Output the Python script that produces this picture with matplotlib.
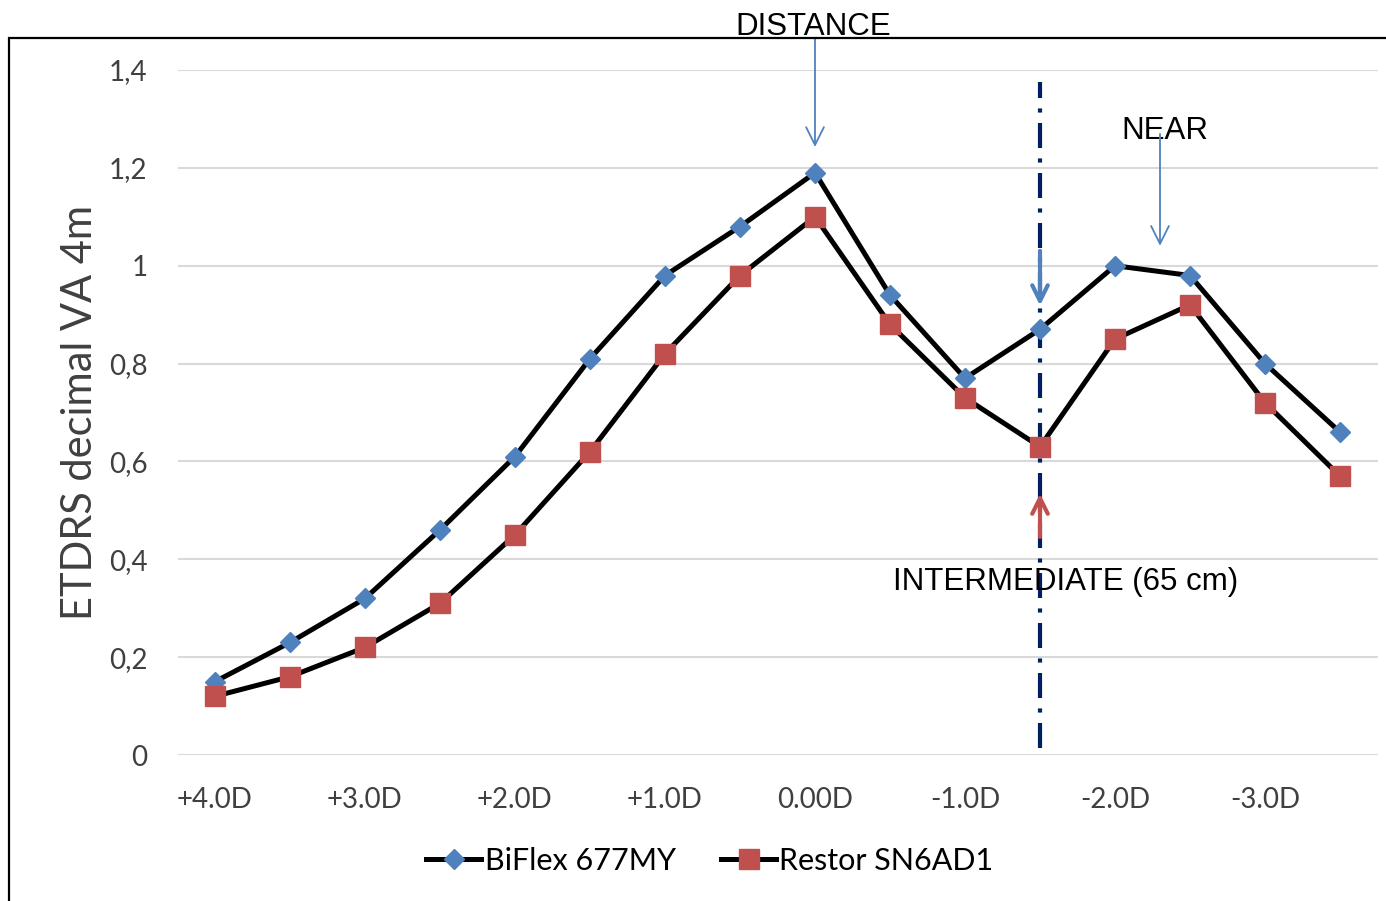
import matplotlib
matplotlib.use('Agg')
import matplotlib.pyplot as plt
from matplotlib.patches import Rectangle

plt.rcParams['font.family'] = ['Lato', 'DejaVu Sans']

# diopter steps, labels shown only on whole diopters
categories = ['+4.0D', '+3.5D', '+3.0D', '+2.5D', '+2.0D', '+1.5D', '+1.0D', '+0.5D',
              '0.00D', '-0.5D', '-1.0D', '-1.5D', '-2.0D', '-2.5D', '-3.0D', '-3.5D']
biflex = [0.15, 0.23, 0.32, 0.46, 0.61, 0.81, 0.98, 1.08, 1.19, 0.94, 0.77, 0.87, 1.00, 0.98, 0.80, 0.66]
restor = [0.12, 0.16, 0.22, 0.31, 0.45, 0.62, 0.82, 0.98, 1.10, 0.88, 0.73, 0.63, 0.85, 0.92, 0.72, 0.57]
yticks = [0, 0.2, 0.4, 0.6, 0.8, 1.0, 1.2, 1.4]
ytick_labels = ['0', '0,2', '0,4', '0,6', '0,8', '1', '1,2', '1,4']

W, H = 1386, 901
fig = plt.figure(figsize=(W / 100, H / 100), dpi=100)
ax = fig.add_axes([177.5 / W, 1 - 755 / H, 1200 / W, 685 / H])

# outer chart frame (left and top visible)
fig.patches.append(Rectangle((8.5 / W, -0.1), 1.2, 1.1 - 38 / H, transform=fig.transFigure,
                             fill=False, edgecolor='black', linewidth=1.6, clip_on=False))

x = list(range(len(categories)))
ax.plot(x, biflex, '-', color='black', linewidth=3.6, marker='D', markersize=9.8,
        markerfacecolor='#4F81BD', markeredgecolor='#4F81BD', label='BiFlex 677MY', zorder=3)
ax.plot(x, restor, '-', color='black', linewidth=3.6, marker='s', markersize=14,
        markerfacecolor='#C0504D', markeredgecolor='#C0504D', label='Restor SN6AD1', zorder=3)

ax.set_xlim(-0.5, len(categories) - 0.5)
ax.set_ylim(0, 1.4)
ax.set_xticks(x[::2])
ax.set_xticklabels(categories[::2])
ax.set_yticks(yticks)
ax.set_yticklabels(ytick_labels)
ax.tick_params(length=0, labelsize=20, colors='#404040', pad=23)
ax.tick_params(axis='y', pad=21.5)
ax.grid(axis='y', color='#D9D9D9', linewidth=1.5)
ax.set_axisbelow(True)
for s in ax.spines.values():
    s.set_visible(False)
ax.set_ylabel('ETDRS decimal VA 4m', fontsize=30, color='#404040', labelpad=7)

# intermediate line
ax.axvline(11, ymin=7 / 685, ymax=673 / 685, color='#002060', linewidth=3,
           linestyle=(0, (6, 2.5, 1, 2.5)), zorder=2)

ann = dict(family=['Liberation Sans', 'DejaVu Sans'], fontsize=22.5, color='black')
ax.text(7.97, 1.487, 'DISTANCE', ha='center', va='center', clip_on=False, **ann)
ax.annotate('', xy=(8, 1.237), xytext=(8, 1.47), annotation_clip=False,
            arrowprops=dict(arrowstyle='->', color='#4F81BD', lw=1.3, mutation_scale=32))
ax.text(12.67, 1.275, 'NEAR', ha='center', va='center', **ann)
ax.annotate('', xy=(12.6, 1.035), xytext=(12.6, 1.275),
            arrowprops=dict(arrowstyle='->', color='#4F81BD', lw=1.3, mutation_scale=32))
ax.annotate('', xy=(11, 0.913), xytext=(11, 1.036),
            arrowprops=dict(arrowstyle='->', color='#4F81BD', lw=3, mutation_scale=28))
ax.annotate('', xy=(11, 0.54), xytext=(11, 0.44),
            arrowprops=dict(arrowstyle='->', color='#C0504D', lw=3, mutation_scale=28))
ax.text(9.04, 0.354, 'INTERMEDIATE (65 cm)', ha='left', va='center', **ann)

leg = ax.legend(loc='center', bbox_to_anchor=(710 / W, 1 - 861 / H), bbox_transform=fig.transFigure,
                ncol=2, frameon=False, fontsize=22, handlelength=1.8, handletextpad=0.1,
                columnspacing=1.5)
for t in leg.get_texts():
    t.set_color('black')

fig.savefig('out.png', dpi=100)
